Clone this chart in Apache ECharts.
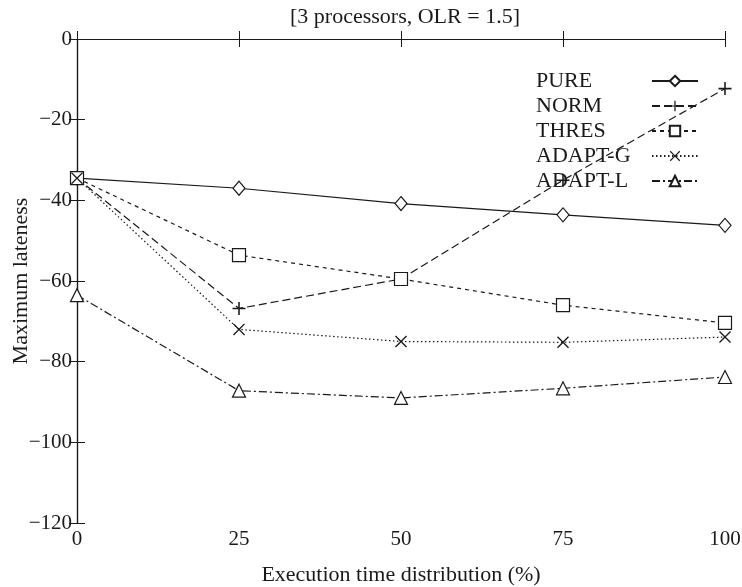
<!DOCTYPE html>
<html>
<head>
<meta charset="utf-8">
<script src="https://cdn.jsdelivr.net/npm/echarts@6/dist/echarts.min.js"></script>
<style>
  html, body { margin: 0; padding: 0; background: #fff; }
  #chart { width: 742px; height: 587px; }
</style>
</head>
<body>
<div id="chart"></div>
<script>
// x positions (%)
var xValues = [0, 25, 50, 75, 100];
var pureData = [-34.5, -37, -40.8, -43.6, -46.2];
var normData = [-34.5, -66.8, -59.5, -35, -12.3];
var thresData = [-34.5, -53.6, -59.5, -66, -70.4];
var adaptGData = [-34.5, -72, -75, -75.2, -73.9];
var adaptLData = [-63.5, -87.2, -89, -86.6, -83.8];
var legendNames = ["PURE", "NORM", "THRES", "ADAPT-G", "ADAPT-L"];

var fontFamily = "'Liberation Serif', 'DejaVu Serif', serif";
var ink = "#1a1a1a";
var fs = 21;
var plusPath = "path://M4.4,0h1.2v4.4h4.4v1.2h-4.4v4.4h-1.2v-4.4h-4.4v-1.2h4.4z";
var crossPath = "path://M0.8,0L5,4.2L9.2,0L10,0.8L5.8,5L10,9.2L9.2,10L5,5.8L0.8,10L0,9.2L4.2,5L0,0.8z";

function pairs(vals) {
  return xValues.map(function (x, i) { return [x, vals[i]]; });
}

function makeSeries(name, vals, dash, symbol, size, hollow) {
  return {
    name: name,
    type: "line",
    data: pairs(vals),
    symbol: symbol,
    symbolSize: size,
    showAllSymbol: true,
    lineStyle: { color: ink, width: 1.2, type: dash },
    itemStyle: {
      color: hollow ? "#fff" : ink,
      borderColor: ink,
      borderWidth: hollow ? 1.2 : 0,
    },
    emphasis: { disabled: true },
    z: 3,
  };
}

var chart = echarts.init(document.getElementById("chart"));
var option = {
  animation: false,
  backgroundColor: "#fff",
  title: {
    text: "[3 processors, OLR = 1.5]",
    left: 400,
    textAlign: "center",
    top: 1,
    textStyle: { fontFamily: fontFamily, fontSize: 22, fontWeight: "normal", color: ink },
  },
  grid: { left: 77, right: 17, top: 39, bottom: 64, outerBoundsMode: "none", containLabel: false },
  legend: {
    orient: "vertical",
    left: 531,
    top: 65,
    align: "right",
    itemGap: 3,
    itemWidth: 46,
    itemHeight: 13,
    formatter: "{n|{name}}",
    textStyle: {
      color: ink,
      rich: {
        n: { fontFamily: fontFamily, fontSize: 22, color: ink, width: 111, align: "left", lineHeight: 22 },
      },
    },
    data: legendNames,
  },
  xAxis: [
    {
      type: "value",
      min: 0,
      max: 100,
      interval: 25,
      name: "Execution time distribution (%)",
      nameLocation: "middle",
      nameGap: 41,
      nameMoveOverlap: false,
      nameTextStyle: { fontFamily: fontFamily, fontSize: 22, color: ink },
      axisLine: { lineStyle: { color: ink, width: 1.2 } },
      axisTick: { inside: true, length: 8, lineStyle: { color: ink } },
      axisLabel: { fontFamily: fontFamily, fontSize: fs, color: ink, margin: 6 },
      splitLine: { show: false },
    },
    {
      type: "value",
      position: "top",
      min: 0,
      max: 100,
      interval: 25,
      axisLine: { lineStyle: { color: ink, width: 1.2 } },
      axisTick: { inside: true, length: 8, lineStyle: { color: ink } },
      axisLabel: { show: false },
      splitLine: { show: false },
    },
  ],
  yAxis: [
    {
      type: "value",
      min: -120,
      max: 0,
      interval: 20,
      name: "Maximum lateness",
      nameLocation: "middle",
      nameGap: 45,
      nameRotate: 90,
      nameMoveOverlap: false,
      nameTextStyle: { fontFamily: fontFamily, fontSize: 22, color: ink },
      axisLine: { show: true, lineStyle: { color: ink, width: 1.2 } },
      axisTick: { show: true, inside: true, length: 8, lineStyle: { color: ink } },
      axisLabel: {
        fontFamily: fontFamily,
        fontSize: fs,
        color: ink,
        margin: 5,
        formatter: function (v) { return v < 0 ? "\u2212" + Math.abs(v) : String(v); },
      },
      splitLine: { show: false },
    },
    {
      type: "value",
      position: "right",
      min: -120,
      max: 0,
      interval: 20,
      axisLine: { show: true, lineStyle: { color: ink, width: 1.2 } },
      axisTick: { show: true, inside: true, length: 8, lineStyle: { color: ink } },
      axisLabel: { show: false },
      splitLine: { show: false },
    },
  ],
  series: [
    makeSeries("PURE", pureData, "solid", "diamond", [12, 14], true),
    makeSeries("NORM", normData, [8, 4], plusPath, 13, false),
    makeSeries("THRES", thresData, [4, 4], "rect", 13, true),
    makeSeries("ADAPT-G", adaptGData, [1.5, 2.5], crossPath, 12, false),
    makeSeries("ADAPT-L", adaptLData, [8, 3, 2, 3], "triangle", 13, true),
  ],
};
option && chart.setOption(option);
</script>
</body>
</html>
